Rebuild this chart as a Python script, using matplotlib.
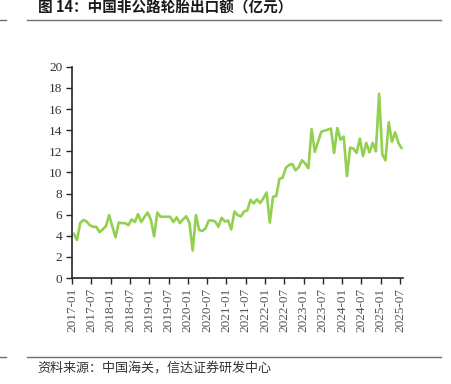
import matplotlib
matplotlib.use('Agg')
import matplotlib.pyplot as plt
import numpy as np

# 中国非公路轮胎出口额 (亿元), monthly 2017-01 .. 2025-07
start_year, start_month = 2017, 1
export_value = [
    4.2, 3.6, 5.2, 5.5, 5.35, 5.0, 4.85, 4.85, 4.35, 4.6, 4.9, 5.95,
    4.9, 3.85, 5.25, 5.2, 5.2, 5.0, 5.55, 5.3, 6.05, 5.3, 5.8, 6.2,
    5.5, 3.95, 6.2, 5.8, 5.8, 5.8, 5.8, 5.3, 5.75, 5.2, 5.55, 5.85,
    5.2, 2.6, 5.95, 4.55, 4.45, 4.7, 5.45, 5.45, 5.35, 4.85, 5.7, 5.35,
    5.45, 4.6, 6.3, 5.95, 5.85, 6.3, 6.4, 7.4, 7.06, 7.45, 7.1, 7.55,
    8.1, 5.25, 7.7, 7.76, 9.4, 9.5, 10.45, 10.7, 10.8, 10.2, 10.5, 11.15,
    10.85, 10.4, 14.1, 11.95, 12.9, 13.85, 13.95, 14.05, 14.15, 11.85, 14.2, 13.1,
    13.4, 9.65, 12.35, 12.25, 11.85, 13.2, 11.55, 12.8, 11.9, 12.8, 12.0, 17.45,
    11.7, 11.15, 14.75, 12.9, 13.8, 12.8, 12.3,
]
y_ticks = [0, 2, 4, 6, 8, 10, 12, 14, 16, 18, 20]

title = '图 14：中国非公路轮胎出口额（亿元）'
source = '资料来源：中国海关，信达证券研发中心'

n = len(export_value)
months = [f'{start_year + (start_month - 1 + i) // 12}-{(start_month - 1 + i) % 12 + 1:02d}'
          for i in range(n)]
tick_idx = list(range(0, n, 6))

cjk = ['Noto Sans CJK SC', 'DejaVu Sans']
serif = 'Liberation Serif'

fig = plt.figure(figsize=(4.51, 3.84), dpi=100)
ax = fig.add_axes([0.160, 0.276, 0.734, 0.550])

# points sit in the middle of each month slot, ticks on slot edges
ax.plot(np.arange(n) + 0.5, export_value, color='#92D050', lw=1.9,
        solid_joinstyle='round', solid_capstyle='round')

ax.set_xlim(0, n)
ax.set_ylim(0, 20)
ax.set_yticks(y_ticks)
ax.set_yticklabels([str(v) for v in y_ticks], family=serif, fontsize=9.5, color='#333333')
ax.set_xticks(tick_idx)
ax.set_xticklabels([months[i] for i in tick_idx], rotation=90, family=serif,
                   fontsize=9.5, color='#555555')

for s in ['top', 'right']:
    ax.spines[s].set_visible(False)
for s in ['left', 'bottom']:
    ax.spines[s].set_color('#262626')
    ax.spines[s].set_linewidth(1.2)
ax.tick_params(axis='both', direction='out', length=4, width=1.0, color='#262626', pad=3)

# title, rules and source note
fig.text(38 / 451, 1 - 8 / 384, title, family=cjk, fontsize=10.5, fontweight='bold',
         color='#1a1a1a', va='center', ha='left')
fig.add_artist(plt.Line2D([27 / 451, 441 / 451], [1 - 19.5 / 384] * 2, color='#707070', lw=1.0))
fig.add_artist(plt.Line2D([0, 6 / 451], [1 - 19.5 / 384] * 2, color='#707070', lw=1.0))
fig.add_artist(plt.Line2D([27 / 451, 441 / 451], [1 - 356.5 / 384] * 2, color='#707070', lw=1.0))
fig.add_artist(plt.Line2D([0, 6 / 451], [1 - 356.5 / 384] * 2, color='#707070', lw=1.0))
fig.text(37 / 451, 1 - 368 / 384, source, family=cjk, fontsize=9.4, style='italic',
         color='#333333', va='center', ha='left')

fig.savefig('out.png', dpi=100)
